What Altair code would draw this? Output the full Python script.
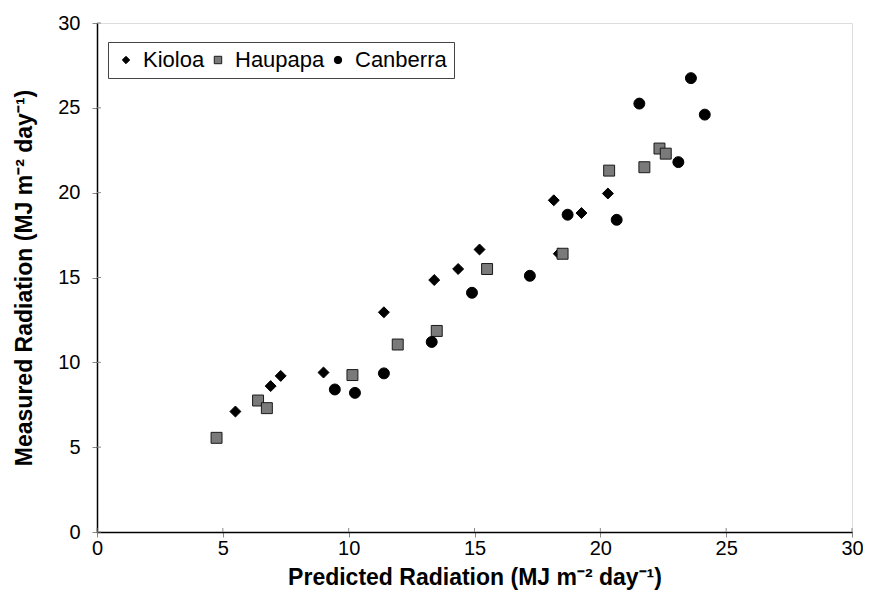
import altair as alt
import pandas as pd

kioloa_x = [5.5, 6.9, 7.3, 9.0, 11.4, 13.4, 14.35, 15.2, 18.15, 18.35, 19.25, 20.3]
kioloa_y = [7.1, 8.6, 9.2, 9.4, 12.95, 14.85, 15.5, 16.65, 19.55, 16.4, 18.8, 19.95]
haupapa_x = [4.75, 6.4, 6.75, 10.15, 11.95, 13.5, 15.5, 18.5, 20.35, 21.75, 22.35, 22.6]
haupapa_y = [5.55, 7.75, 7.3, 9.25, 11.05, 11.85, 15.5, 16.4, 21.3, 21.5, 22.6, 22.3]
canberra_x = [9.45, 10.25, 11.4, 13.3, 14.9, 17.2, 18.7, 20.65, 23.1, 21.55, 23.6, 24.15]
canberra_y = [8.4, 8.2, 9.35, 11.2, 14.1, 15.1, 18.7, 18.4, 21.8, 25.25, 26.75, 24.6]

series = ["Kioloa", "Haupapa", "Canberra"]
ticks = [0, 5, 10, 15, 20, 25, 30]

rows = []
for name, xs, ys in [("Kioloa", kioloa_x, kioloa_y), ("Haupapa", haupapa_x, haupapa_y),
                     ("Canberra", canberra_x, canberra_y)]:
    for a, b in zip(xs, ys):
        rows.append({"Series": name, "Predicted": a, "Measured": b})
df = pd.DataFrame(rows)
tick_df = pd.DataFrame({"t": ticks})

FONT = "Liberation Sans"
xscale = alt.Scale(domain=[0, 30], nice=False, zero=False)
yscale = alt.Scale(domain=[0, 30], nice=False, zero=False)

points = alt.Chart(df).mark_point(filled=True, strokeWidth=1, opacity=1, size=120).encode(
    x=alt.X("Predicted:Q", scale=xscale,
            axis=alt.Axis(title="Predicted Radiation (MJ m⁻² day⁻¹)", values=ticks, grid=False,
                          tickSize=5, tickColor="#888888", domainColor="black", domainWidth=1.5,
                          labelFont=FONT, labelFontSize=20, labelColor="black", labelPadding=1,
                          labelFlush=False,
                          titleFont=FONT, titleFontSize=23, titleFontWeight="bold",
                          titleColor="black", titlePadding=8)),
    y=alt.Y("Measured:Q", scale=yscale,
            axis=alt.Axis(title="Measured Radiation (MJ m⁻² day⁻¹)", values=ticks, grid=False,
                          tickSize=5, tickColor="#888888", domainColor="black", domainWidth=1.5,
                          labelFont=FONT, labelFontSize=20, labelColor="black", labelPadding=12,
                          labelFlush=False,
                          titleFont=FONT, titleFontSize=23, titleFontWeight="bold",
                          titleColor="black", titlePadding=21)),
    shape=alt.Shape("Series:N", scale=alt.Scale(domain=series, range=["diamond", "square", "circle"]),
                    legend=alt.Legend(title=None, orient="none", legendX=11, legendY=19,
                                      direction="horizontal", labelFont=FONT, labelFontSize=22,
                                      labelColor="black", symbolSize=55, columnPadding=2,
                                      labelOffset=6, padding=7, strokeColor="#444444",
                                      fillColor="white", symbolStrokeWidth=1)),
    fill=alt.Fill("Series:N", scale=alt.Scale(domain=series, range=["black", "#7a7a7a", "black"])),
    stroke=alt.Stroke("Series:N", scale=alt.Scale(domain=series, range=["black", "#1a1a1a", "black"])),
)

xin = alt.Chart(tick_df).mark_rule(color="#888888", strokeWidth=1).encode(
    x=alt.X("t:Q", scale=xscale), y=alt.value(509), y2=alt.value(505))
yin = alt.Chart(tick_df).mark_rule(color="#888888", strokeWidth=1).encode(
    y=alt.Y("t:Q", scale=yscale), x=alt.value(0), x2=alt.value(4))

chart = alt.layer(xin, yin, points).properties(
    width=755, height=509,
    autosize=alt.AutoSizeParams(type="none"),
    padding={"left": 89, "top": 15, "right": 11, "bottom": 58},
).configure_view(stroke="black", strokeWidth=1.5).configure(background="white")

chart.save("out.html", embed_options={"renderer": "svg", "actions": False})
